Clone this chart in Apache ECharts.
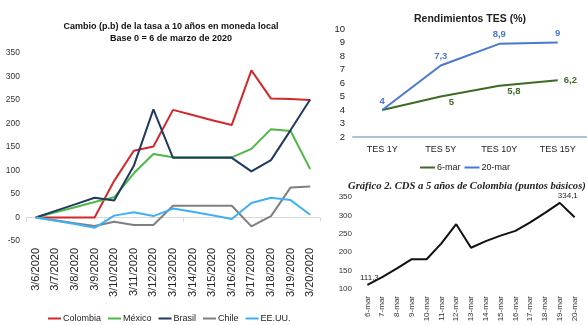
<!DOCTYPE html>
<html>
<head>
<meta charset="utf-8">
<script src="https://cdn.jsdelivr.net/npm/echarts@6/dist/echarts.min.js"></script>
<style>
html,body{margin:0;padding:0;background:#fff;}
#c{width:587px;height:325px;}
</style>
</head>
<body>
<div id="c"></div>
<script>
// ---- Chart 1: Cambio (p.b) tasa 10 años ----
const dates1 = ['3/6/2020','3/7/2020','3/8/2020','3/9/2020','3/10/2020','3/11/2020','3/12/2020','3/13/2020','3/14/2020','3/15/2020','3/16/2020','3/17/2020','3/18/2020','3/19/2020','3/20/2020'];
const colombia = [0, 0, 0, 0, 78, 142, 151, 229, 218, 207, 197, 313, 253, 252, 250];
const mexico   = [0, 11, 22, 33, 43, 94, 135, 128, 128, 128, 128, 146, 188, 184, 103];
const brasil   = [0, 14, 28, 42, 36, 110, 230, 127, 127, 127, 127, 98, 122, 186, 251];
const chile    = [0, -6, -12, -18, -9, -16, -16, 25, 25, 25, 25, -19, 3, 64, 66];
const eeuu     = [0, -7, -14, -22, 4, 11, 3, 19, 12, 5, -3, 31, 42, 37, 6];

// ---- Chart 2: Rendimientos TES (%) ----
const tesCats = ['TES 1Y','TES 5Y','TES 10Y','TES 15Y'];
const tes6mar  = [4, 5, 5.8, 6.2];
const tes20mar = [4, 7.3, 8.9, 9];

// ---- Chart 3: CDS 5 años Colombia ----
const cdsCats = ['6-mar','7-mar','8-mar','9-mar','10-mar','11-mar','12-mar','13-mar','14-mar','15-mar','16-mar','17-mar','18-mar','19-mar','20-mar'];
const cdsVals = [111.3, 132, 156, 181, 181, 224, 276, 212, 230, 245, 258, 281, 307, 334.1, 295];

const SANS = '"Liberation Sans",Arial,sans-serif';
const comma = v => String(v).replace('.', ',');

const chart = echarts.init(document.getElementById('c'), null, {renderer: 'canvas'});

const tes6Data = tes6mar.map((v, i) => {
  if (i === 0) return {value: v, label: {show: false}};
  if (i === 3) return {value: v, label: {show: true, position: 'right', offset: [1, 0]}};
  return {value: v, label: {show: true, position: 'right', offset: [3, 6]}};
});
const cdsData = cdsVals.map((v, i) => {
  if (i === 0) return {value: v, label: {show: true, position: 'top', offset: [2, 0]}};
  if (i === 13) return {value: v, label: {show: true, position: 'top', offset: [8, 0]}};
  return {value: v, label: {show: false}};
});

const option = {
  animation: false,
  backgroundColor: '#ffffff',
  title: [
    {
      text: 'Cambio (p.b) de la tasa a 10 años en moneda local\nBase 0 = 6 de marzo de 2020',
      left: 166, top: 16, textAlign: 'center',
      textStyle: {fontFamily: SANS, fontSize: 9, fontWeight: 'bold', color: '#111', lineHeight: 12}
    },
    {
      text: 'Rendimientos TES (%)',
      left: 465, top: 9, textAlign: 'center',
      textStyle: {fontFamily: SANS, fontSize: 10.5, fontWeight: 'bold', color: '#222'}
    },
    {
      text: 'Gráfico 2. CDS a 5 años de Colombia (puntos básicos)',
      left: 343, top: 176,
      textStyle: {fontFamily: '"Liberation Serif","Times New Roman",serif', fontSize: 10.6, fontWeight: 'bold', fontStyle: 'italic', color: '#222'}
    }
  ],
  legend: [
    {
      data: ['Colombia','México','Brasil','Chile','EE.UU.'],
      left: 43, top: 309,
      icon: 'rect', itemWidth: 13, itemHeight: 2, itemGap: 7,
      textStyle: {fontFamily: SANS, fontSize: 9, color: '#222', padding: [0, 0, 0, -3]}
    },
    {
      data: ['6-mar','20-mar'],
      left: 415, top: 158,
      icon: 'rect', itemWidth: 15, itemHeight: 2, itemGap: 4,
      textStyle: {fontFamily: SANS, fontSize: 9, color: '#222', padding: [0, 0, 0, -3]}
    }
  ],
  grid: [
    {left: 26, top: 53, width: 294, height: 188},
    {left: 353, top: 29, width: 234, height: 108},
    {left: 360, top: 197, width: 222, height: 92}
  ],
  xAxis: [
    {
      gridIndex: 0, type: 'category', data: dates1, boundaryGap: true,
      axisLine: {onZero: true, lineStyle: {color: '#d9d9d9', width: 1}},
      axisTick: {show: true, length: 4, lineStyle: {color: '#d9d9d9'}},
      axisLabel: {show: false}
    },
    {
      gridIndex: 0, type: 'category', data: dates1, boundaryGap: true, position: 'bottom',
      axisLine: {show: false, onZero: false}, axisTick: {show: false},
      axisLabel: {rotate: 90, margin: 7, interval: 0, fontFamily: SANS, fontSize: 11, color: '#222'}
    },
    {
      gridIndex: 1, type: 'category', data: tesCats, boundaryGap: true,
      axisLine: {lineStyle: {color: '#a9c4d4', width: 2}},
      axisTick: {show: false},
      axisLabel: {margin: 8, fontFamily: SANS, fontSize: 9, color: '#222'}
    },
    {
      gridIndex: 2, type: 'category', data: cdsCats, boundaryGap: true,
      axisLine: {show: false}, axisTick: {show: false},
      axisLabel: {rotate: 90, margin: 7, interval: 0, fontFamily: SANS, fontSize: 8, color: '#333'}
    }
  ],
  yAxis: [
    {
      gridIndex: 0, type: 'value', min: -50, max: 350, interval: 50,
      axisLine: {show: false}, axisTick: {show: false}, splitLine: {show: false},
      axisLabel: {margin: 6, fontFamily: SANS, fontSize: 8.5, color: '#333'}
    },
    {
      gridIndex: 1, type: 'value', min: 2, max: 10, interval: 1,
      axisLine: {show: false}, axisTick: {show: false}, splitLine: {show: false},
      axisLabel: {margin: 8, fontFamily: SANS, fontSize: 9.5, color: '#222'}
    },
    {
      gridIndex: 2, type: 'value', min: 100, max: 350, interval: 50,
      axisLine: {show: false}, axisTick: {show: false}, splitLine: {show: false},
      axisLabel: {margin: 8, fontFamily: SANS, fontSize: 8, color: '#333'}
    }
  ],
  series: [
    {name: 'Colombia', type: 'line', xAxisIndex: 0, yAxisIndex: 0, data: colombia, symbol: 'none', color: '#d0282c', lineStyle: {width: 2}},
    {name: 'México', type: 'line', xAxisIndex: 0, yAxisIndex: 0, data: mexico, symbol: 'none', color: '#4db848', lineStyle: {width: 2}},
    {name: 'Brasil', type: 'line', xAxisIndex: 0, yAxisIndex: 0, data: brasil, symbol: 'none', color: '#1f3a60', lineStyle: {width: 2}},
    {name: 'Chile', type: 'line', xAxisIndex: 0, yAxisIndex: 0, data: chile, symbol: 'none', color: '#7f7f7f', lineStyle: {width: 2}},
    {name: 'EE.UU.', type: 'line', xAxisIndex: 0, yAxisIndex: 0, data: eeuu, symbol: 'none', color: '#3fb1f2', lineStyle: {width: 2}},
    {
      name: '6-mar', type: 'line', xAxisIndex: 2, yAxisIndex: 1, data: tes6Data,
      symbol: 'circle', symbolSize: 0.01, showSymbol: true,
      color: '#3e6b24', lineStyle: {width: 2},
      label: {show: true, formatter: p => comma(p.value), fontFamily: SANS, fontSize: 9.5, fontWeight: 'bold', color: '#3e6b24'}
    },
    {
      name: '20-mar', type: 'line', xAxisIndex: 2, yAxisIndex: 1, data: tes20mar,
      symbol: 'circle', symbolSize: 0.01, showSymbol: true,
      color: '#4a78d2', lineStyle: {width: 2},
      label: {show: true, position: 'top', distance: 4, formatter: p => comma(p.value), fontFamily: SANS, fontSize: 9.5, fontWeight: 'bold', color: '#4a78d2'}
    },
    {
      name: 'CDS', type: 'line', xAxisIndex: 3, yAxisIndex: 2, data: cdsData,
      symbol: 'circle', symbolSize: 0.01, showSymbol: true,
      color: '#111111', lineStyle: {width: 2},
      label: {formatter: p => comma(p.value), fontFamily: SANS, fontSize: 8, color: '#222', distance: 3}
    }
  ]
};
chart.setOption(option);
</script>
</body>
</html>
